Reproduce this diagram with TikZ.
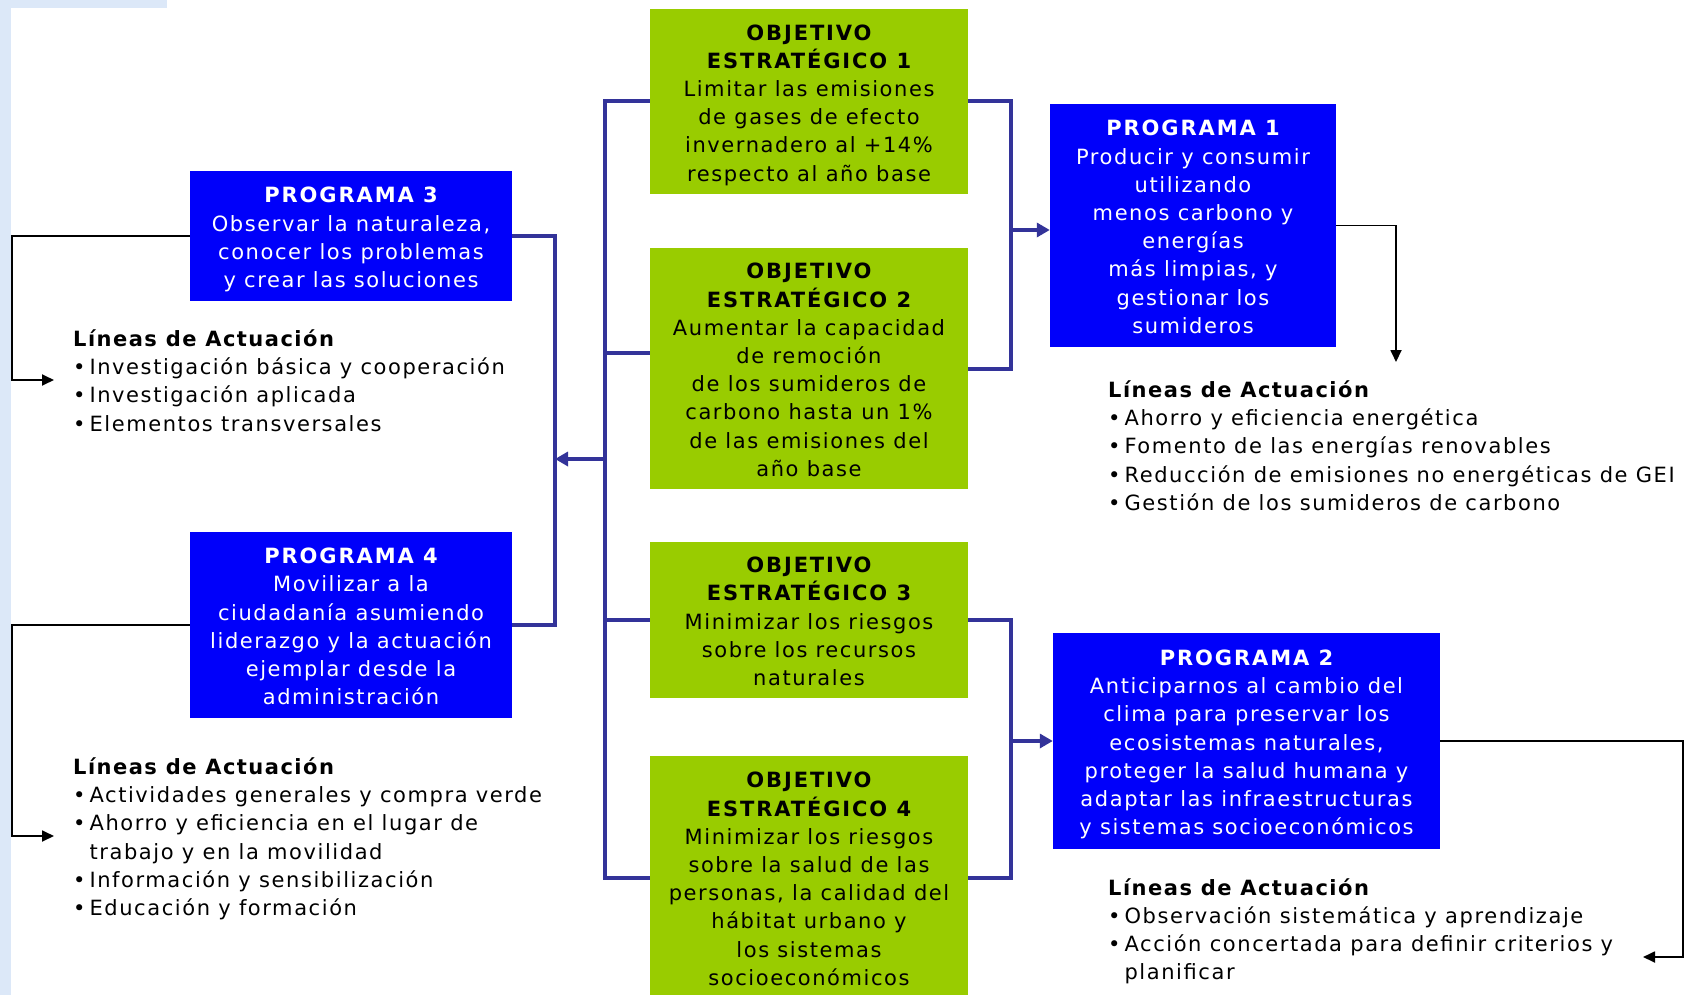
\documentclass[tikz,border=0pt]{standalone}
\usepackage{fontspec}
\setmainfont{DejaVu Sans}[LetterSpace=7.5]
\newfontfamily\hdfont{DejaVu Sans}[LetterSpace=9]
\newfontfamily\ttlfont{DejaVu Sans}[LetterSpace=7]
\usetikzlibrary{arrows.meta}
\definecolor{objgreen}{RGB}{153,204,0}
\definecolor{progblue}{RGB}{0,0,250}
\definecolor{busblue}{RGB}{51,51,153}
\definecolor{bgblue}{RGB}{220,232,248}
\newcommand\hd[1]{{\hdfont\bfseries #1}}
\newcommand\ttl{{\ttlfont\bfseries Líneas de Actuación}}
\newcommand\bul{•\kern4pt}
\newcommand\bulind{\hphantom{•}\kern4pt}
\newcommand\topstrut{\rule{0pt}{24pt}}
\newcommand\botstrut{\rule[-5.7pt]{0pt}{5.7pt}}
\begin{document}
\begin{tikzpicture}[x=1pt,y=-1pt,
  txt/.style={font=\fontsize{21}{28.2}\selectfont},
  objbox/.style={txt, fill=objgreen, text=black, align=center, inner sep=0pt, minimum width=318pt},
  progbox/.style={txt, fill=progblue, text=white, align=center, inner sep=0pt},
  bus/.style={draw=busblue, line width=4pt},
  busarrow/.style={bus, -{Triangle[length=13pt,width=14pt]}},
  thinarrow/.style={draw=black, line width=1.8pt, -{Triangle[length=12pt,width=11pt]}},
  lineas/.style={txt, anchor=base west, inner sep=0pt, text=black}
]
\useasboundingbox (0,0) rectangle (1689,995);
\clip (0,0) rectangle (1689,995);
\fill[white] (0,0) rectangle (1689,995);
\fill[bgblue] (0,0) rectangle (11,995);
\fill[bgblue] (0,0) rectangle (167,8);

% objective boxes
\node[objbox, minimum height=185pt] (o1) at (809,101.5)
  {\topstrut\hd{OBJETIVO}\\\hd{ESTRATÉGICO 1}\\Limitar las emisiones\\de gases de efecto\\invernadero al +14\%\\respecto al año base\botstrut};
\node[objbox, minimum height=241pt] (o2) at (809,368.5)
  {\topstrut\hd{OBJETIVO}\\\hd{ESTRATÉGICO 2}\\Aumentar la capacidad\\de remoción\\de los sumideros de\\carbono hasta un 1\%\\de las emisiones del\\año base\botstrut};
\node[objbox, minimum height=156pt] (o3) at (809,620)
  {\topstrut\hd{OBJETIVO}\\\hd{ESTRATÉGICO 3}\\Minimizar los riesgos\\sobre los recursos\\naturales\botstrut};
\node[objbox, minimum height=243pt] (o4) at (809,877.5)
  {\topstrut\hd{OBJETIVO}\\\hd{ESTRATÉGICO 4}\\Minimizar los riesgos\\sobre la salud de las\\personas, la calidad del\\hábitat urbano y\\los sistemas\\socioeconómicos\botstrut};

% programme boxes
\node[progbox, minimum width=322pt, minimum height=130pt] (p3) at (351,236)
  {\topstrut\hd{PROGRAMA 3}\\Observar la naturaleza,\\conocer los problemas\\y crear las soluciones\botstrut};
\node[progbox, minimum width=322pt, minimum height=186pt] (p4) at (351,625)
  {\topstrut\hd{PROGRAMA 4}\\Movilizar a la\\ciudadanía asumiendo\\liderazgo y la actuación\\ejemplar desde la\\administración\botstrut};
\node[progbox, minimum width=286pt, minimum height=243pt] (p1) at (1193,225.5)
  {\topstrut\hd{PROGRAMA 1}\\Producir y consumir\\utilizando\\menos carbono y\\energías\\más limpias, y\\gestionar los\\sumideros\botstrut};
\node[progbox, minimum width=387pt, minimum height=216pt] (p2) at (1246.5,741)
  {\topstrut\hd{PROGRAMA 2}\\Anticiparnos al cambio del\\clima para preservar los\\ecosistemas naturales,\\proteger la salud humana y\\adaptar las infraestructuras\\y sistemas socioeconómicos\botstrut};

% lineas de actuacion
\node[lineas] (l3) at (73,346.5) {\begin{tabular}[t]{@{}l@{}}\ttl\\\bul Investigación básica y cooperación\\\bul Investigación aplicada\\\bul Elementos transversales\end{tabular}};
\node[lineas] (l4) at (73,774.5) {\begin{tabular}[t]{@{}l@{}}\ttl\\\bul Actividades generales y compra verde\\\bul Ahorro y eficiencia en el lugar de\\\bulind trabajo y en la movilidad\\\bul Información y sensibilización\\\bul Educación y formación\end{tabular}};
\node[lineas] (l1) at (1108,397.5) {\begin{tabular}[t]{@{}l@{}}\ttl\\\bul Ahorro y eficiencia energética\\\bul Fomento de las energías renovables\\\bul Reducción de emisiones no energéticas de GEI\\\bul Gestión de los sumideros de carbono\end{tabular}};
\node[lineas] (l2) at (1108,895) {\begin{tabular}[t]{@{}l@{}}\ttl\\\bul Observación sistemática y aprendizaje\\\bul Acción concertada para definir criterios y\\\bulind planificar\end{tabular}};

% bus coordinates
\coordinate (lbx) at (605,0);
\coordinate (mbx) at (555,0);
\coordinate (rbx) at (1011,0);
\coordinate (larr) at (605,459);

% left bus
\draw[bus] (o1.west) -- (o1.west -| lbx) -- (o4.west -| lbx) -- (o4.west);
\draw[bus] ([yshift=16pt]o2.west) -- ([yshift=16pt]o2.west -| lbx);
\draw[bus] (o3.west) -- (o3.west -| lbx);
\draw[busarrow] (larr) -- (larr -| mbx);
\draw[bus] (p3.east) -- (p3.east -| mbx) -- (p4.east -| mbx) -- (p4.east);

% right buses
\draw[bus] (o1.east) -- (o1.east -| rbx) -- (o2.east -| rbx) -- (o2.east);
\draw[busarrow] ([yshift=-4.5pt]p1.west -| rbx) -- ([yshift=-4.5pt]p1.west);
\draw[bus] (o3.east) -- (o3.east -| rbx) -- (o4.east -| rbx) -- (o4.east);
\draw[busarrow] (p2.west -| rbx) -- (p2.west);

% thin connectors to lineas
\coordinate (c3) at (12,380);
\coordinate (t3) at (54,380);
\coordinate (c4) at (12,836);
\coordinate (t4) at (54,836);
\coordinate (t1) at (1396,362);
\coordinate (c2) at (1683,957);
\coordinate (t2) at (1643,957);
\draw[thinarrow] (p3.west) -| (c3) -- (t3);
\draw[thinarrow] (p4.west) -| (c4) -- (t4);
\draw[thinarrow] (p1.east) -| (t1);
\draw[thinarrow] (p2.east) -| (c2) -- (t2);
\end{tikzpicture}
\end{document}
